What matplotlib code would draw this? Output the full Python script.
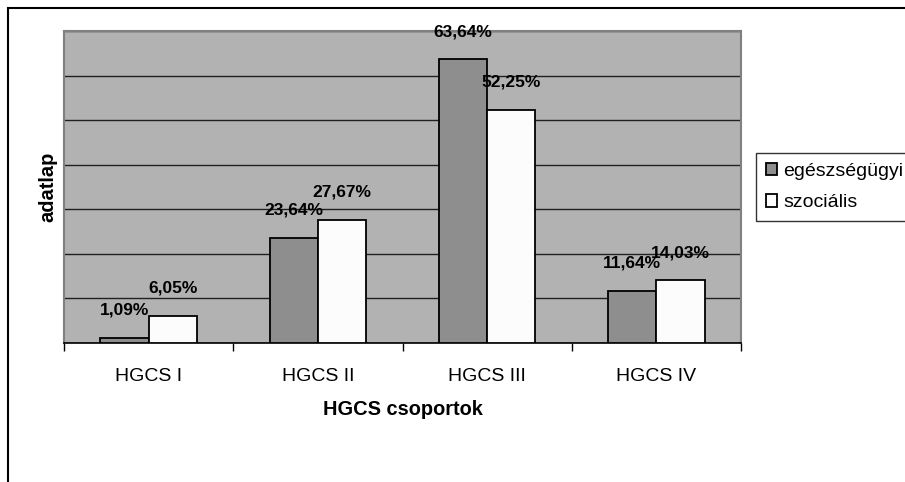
import numpy as np
import matplotlib
matplotlib.use("Agg")
from matplotlib import pyplot as plt
from matplotlib.patches import Rectangle

plt.rcParams['font.family'] = ['Liberation Sans', 'DejaVu Sans']

# data
groups = ["HGCS I", "HGCS II", "HGCS III", "HGCS IV"]
egeszseg = [1.09, 23.64, 63.64, 11.64]
szocialis = [6.05, 27.67, 52.25, 14.03]
series_names = ["egészségügyi", "szociális"]

fig = plt.figure(figsize=(9.05, 4.82), dpi=100)
ax = fig.add_axes([64/905, 1-343/482, (741-64)/905, (343-31)/482])
ax.set_facecolor("#b2b2b2")

x = np.arange(len(groups))
w = 1/3.5
b1 = ax.bar(x - w/2, egeszseg, w, color="#8e8e8e", edgecolor="black", linewidth=1.3, zorder=3)
b2 = ax.bar(x + w/2, szocialis, w, color="#fcfcfc", edgecolor="black", linewidth=1.3, zorder=3)

# value labels above bars
for bars, vals in [(b1, egeszseg), (b2, szocialis)]:
    for r, v in zip(bars, vals):
        ax.annotate(("%.2f%%" % v).replace(".", ","),
                    (r.get_x() + r.get_width()/2, v),
                    xytext=(0, 20), textcoords="offset points",
                    ha="center", va="center", fontsize=12.5, fontweight="bold", zorder=5)

ax.set_ylim(0, 70)
ax.set_yticks(np.arange(0, 71, 10))
ax.set_yticklabels([])
ax.tick_params(axis="y", length=0)
ax.yaxis.grid(True, color="#202020", linewidth=1)
ax.set_axisbelow(True)

ax.set_xlim(-0.5, len(groups) - 0.5)
ax.set_xticks(np.arange(-0.5, len(groups), 1))
ax.set_xticklabels([])
ax.set_xticks(x, minor=True)
ax.set_xticklabels(groups, minor=True, fontsize=14)
ax.tick_params(axis="x", which="major", length=6, width=1, color="black")
ax.tick_params(axis="x", which="minor", length=0, pad=18)

for s in ["top", "right", "left"]:
    ax.spines[s].set_color("#808080")
    ax.spines[s].set_linewidth(1.5)
ax.spines["bottom"].set_color("black")
ax.spines["bottom"].set_linewidth(1.2)

ax.set_xlabel("HGCS csoportok", fontsize=14.4, fontweight="bold", labelpad=11)
ax.set_ylabel("adatlap", fontsize=14.4, fontweight="bold", labelpad=1)

leg = fig.legend([b1, b2], series_names, loc="upper left",
                 bbox_to_anchor=(756/905, 1-153/482), fontsize=14,
                 frameon=True, fancybox=False, handlelength=0.6, handleheight=0.6,
                 handletextpad=0.3, labelspacing=0.75, borderpad=0.5, borderaxespad=0)
leg.get_frame().set_edgecolor("black")
leg.get_frame().set_linewidth(1)

# outer chart border
fig.patches.append(Rectangle((7.5/905, -0.1), 1.2, 1 - 7.5/482 + 0.1,
                             transform=fig.transFigure, fill=False,
                             edgecolor="black", linewidth=1.5))

plt.savefig("out.png", dpi=100)
